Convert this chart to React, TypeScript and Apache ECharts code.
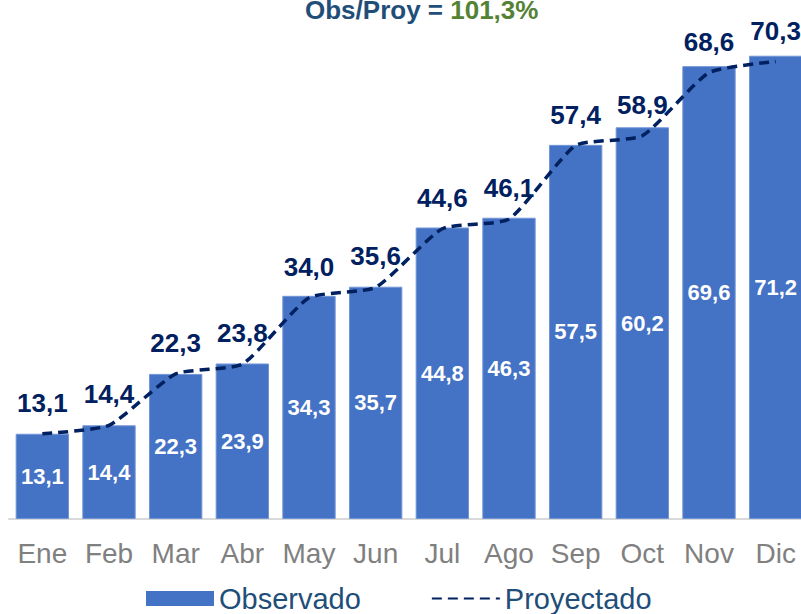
import React, { useEffect, useRef } from "react";
import * as echarts from "echarts";

const categories = ["Ene", "Feb", "Mar", "Abr", "May", "Jun", "Jul", "Ago", "Sep", "Oct", "Nov", "Dic"];
const observado = [13.1, 14.4, 22.3, 23.9, 34.3, 35.7, 44.8, 46.3, 57.5, 60.2, 69.6, 71.2];
const proyectado = [13.1, 14.4, 22.3, 23.8, 34.0, 35.6, 44.6, 46.1, 57.4, 58.9, 68.6, 70.3];
const titleLeft = "Obs/Proy = ";
const titleRight = "101,3%";

const FONT = "Arial, 'Liberation Sans', sans-serif";
const fmt = (v: number) => v.toFixed(1).replace(".", ",");

export default function App() {
  const ref = useRef<HTMLDivElement>(null);
  useEffect(() => {
    if (!ref.current) return;
    const chart = echarts.init(ref.current, undefined, { renderer: "svg" });
    chart.setOption({
      animation: false,
      backgroundColor: "#ffffff",
      textStyle: { fontFamily: FONT },
      title: {
        text: `{a|${titleLeft}}{b|${titleRight}}`,
        left: 300,
        top: -8,
        textStyle: {
          rich: {
            a: { fontSize: 26, fontWeight: "bold", color: "#1F4E79", fontFamily: FONT },
            b: { fontSize: 26, fontWeight: "bold", color: "#548235", fontFamily: FONT },
          },
        },
      },
      legend: {
        left: 141,
        top: 579,
        itemWidth: 68,
        itemHeight: 15,
        itemGap: 70,
        textStyle: { fontSize: 29, color: "#1F4E79", fontFamily: FONT },
        data: [
          { name: "Observado", icon: "rect", itemStyle: { borderWidth: 0 } },
          { name: "Proyectado", itemStyle: { opacity: 0 } },
        ],
      },
      grid: { left: 9, right: 11, top: 31, bottom: 95 },
      xAxis: {
        type: "category",
        data: categories,
        axisLine: { show: true, lineStyle: { color: "#D9D9D9", width: 2 } },
        axisTick: { show: false },
        axisLabel: { color: "#808080", fontSize: 28, margin: 20, interval: 0, fontFamily: FONT },
      },
      yAxis: {
        type: "value",
        min: 0,
        max: 75,
        show: false,
        splitLine: { show: false },
      },
      series: [
        {
          name: "Observado",
          type: "bar",
          data: observado,
          barCategoryGap: "20%",
          itemStyle: { color: "#4472C4", borderColor: "#7195D6", borderWidth: 1 },
          label: {
            show: true,
            position: "inside",
            color: "#ffffff",
            fontSize: 22,
            fontWeight: "bold",
            fontFamily: FONT,
            formatter: (p: any) => fmt(p.value),
          },
        },
        {
          name: "Proyectado",
          type: "line",
          data: proyectado,
          smooth: 0.18,
          symbol: "circle",
          symbolSize: 2,
          showSymbol: true,
          lineStyle: { color: "#002060", width: 3.5, type: [10, 6] },
          itemStyle: { color: "rgba(0,0,0,0)" },
          label: {
            show: true,
            position: "top",
            distance: 17,
            color: "#002060",
            fontSize: 26,
            fontWeight: "bold",
            fontFamily: FONT,
            formatter: (p: any) => fmt(p.value),
          },
          z: 3,
        },
      ],
    });
    return () => chart.dispose();
  }, []);
  return (
    <div style={{ position: "fixed", left: 0, top: 0, width: 801, height: 614, overflow: "hidden" }}>
      <div ref={ref} style={{ width: 820, height: 614 }} />
    </div>
  );
}
